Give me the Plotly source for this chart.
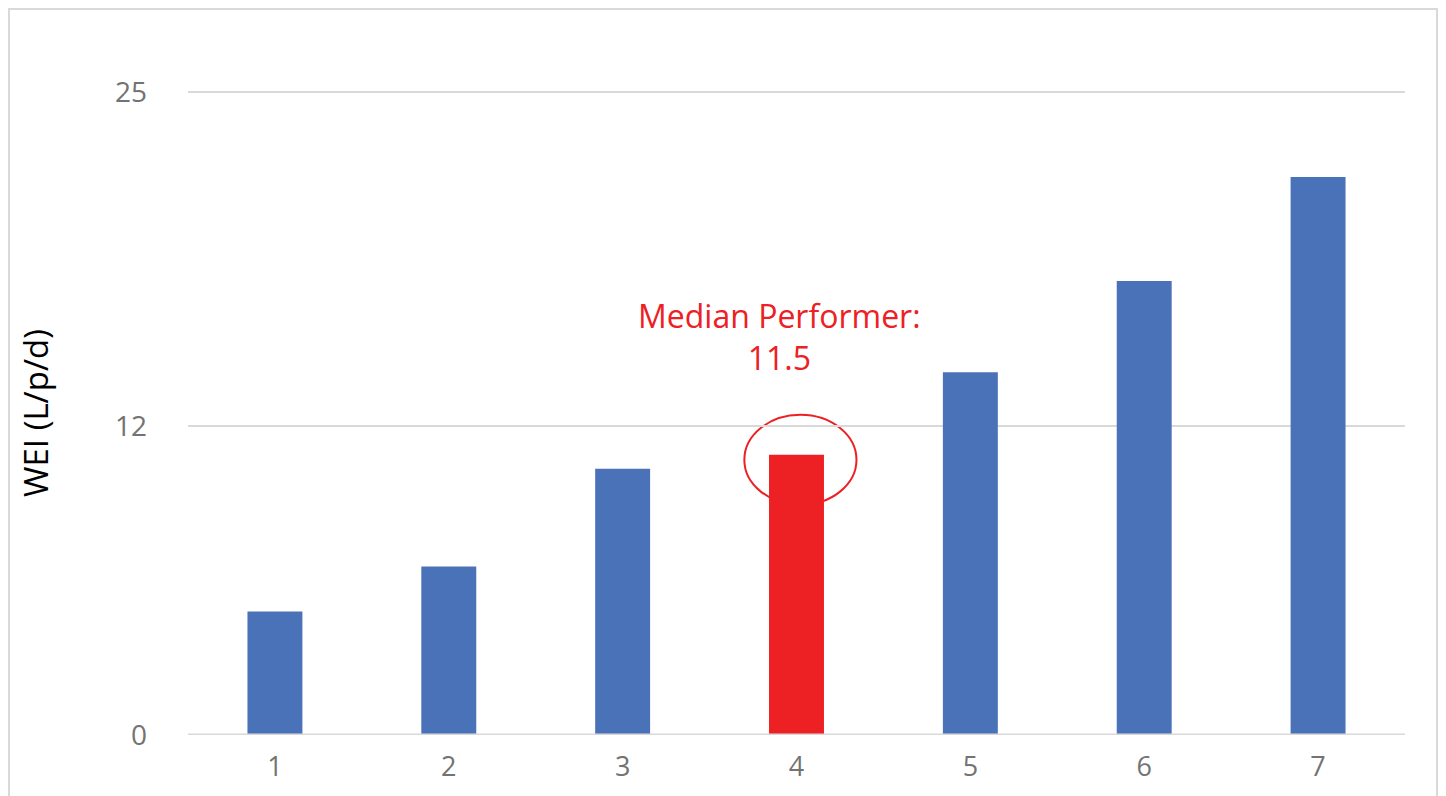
import plotly.graph_objects as go

categories = ["1", "2", "3", "4", "5", "6", "7"]
wei_values = [4.8, 6.55, 10.35, 10.9, 14.1, 17.65, 21.7]
bar_colors = ["#4A72B8", "#4A72B8", "#4A72B8", "#ED2024", "#4A72B8", "#4A72B8", "#4A72B8"]
y_ticks = [0, 12, 25]
median_label = "Median Performer:<br>11.5"
median_index = 3

RED = "#ED2024"
FONT = "Open Sans"
TICK_COLOR = "#737373"

fig = go.Figure()
fig.add_trace(go.Bar(
    x=list(range(1, len(categories) + 1)),
    y=wei_values,
    marker=dict(color=bar_colors, line=dict(width=0)),
    width=0.316,
    hoverinfo="skip",
))

fig.update_layout(
    width=1438, height=788,
    margin=dict(l=180, r=41, t=83, b=61),
    paper_bgcolor="white", plot_bgcolor="white",
    showlegend=False,
    font=dict(family=FONT, color=TICK_COLOR),
    xaxis=dict(
        range=[0.5, len(categories) + 0.5],
        tickmode="array",
        tickvals=list(range(1, len(categories) + 1)),
        ticktext=categories,
        showgrid=False, zeroline=False, showline=False,
        ticks="", tickfont=dict(size=27, color=TICK_COLOR, family=FONT),
        ticklabelstandoff=13,
    ),
    yaxis=dict(
        range=[0, 25.04],
        tickmode="array",
        tickvals=y_ticks,
        showgrid=True, gridcolor="#D9D9D9", gridwidth=2,
        zeroline=False, showline=False,
        ticks="", tickfont=dict(size=28, color=TICK_COLOR, family=FONT),
        ticklabelstandoff=40,
        title=dict(text="WEI (L/p/d)", font=dict(size=33, color="#000000", family=FONT), standoff=56),
    ),
)

# zero baseline
fig.add_shape(type="line", xref="paper", yref="y", x0=0, x1=1, y0=0, y1=0,
              line=dict(color="#D9D9D9", width=3), layer="above")

# ellipse around the median bar
mx = median_index + 1
fig.add_shape(type="circle", xref="x", yref="y",
              x0=mx - 0.30, x1=mx + 0.345, y0=wei_values[median_index] - 1.95, y1=wei_values[median_index] + 1.55,
              line=dict(color=RED, width=2), layer="below")

fig.add_annotation(x=mx - 0.096, y=15.5, xref="x", yref="y",
                   text=median_label, showarrow=False,
                   font=dict(size=32, color=RED, family=FONT), align="center",
                   yanchor="middle")

# outer border
fig.add_shape(type="rect", xref="paper", yref="paper",
              x0=-179 / 1217, x1=1 + 32 / 1217, y0=-100 / 644, y1=1 + 82 / 644,
              line=dict(color="#D9D9D9", width=2), layer="below")

fig.write_html("out.html")
